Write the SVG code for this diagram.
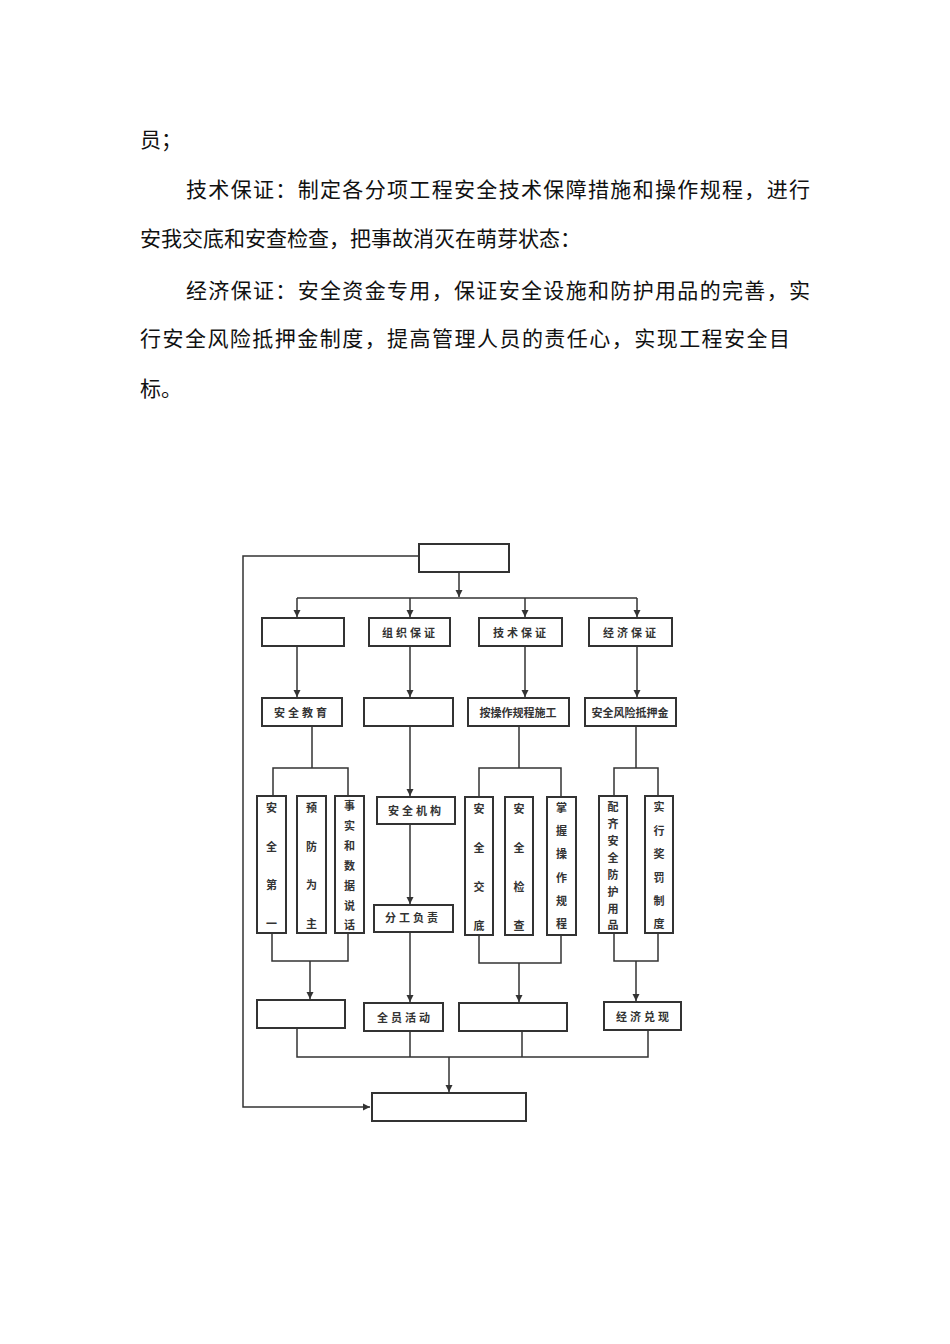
<svg xmlns="http://www.w3.org/2000/svg" width="950" height="1344" viewBox="0 0 950 1344">
<style>
.p{font-family:"Noto Sans CJK SC","Noto Sans CJK TC",sans-serif;font-size:21px;fill:#111}
.b{fill:#fff;stroke:#333;stroke-width:2}
.t{font-family:"Noto Sans CJK SC",sans-serif;font-size:11px;font-weight:bold;fill:#333;text-anchor:middle;dominant-baseline:central;letter-spacing:3px}
.v{font-family:"Noto Sans CJK SC",sans-serif;font-size:11px;font-weight:bold;fill:#333;text-anchor:middle;dominant-baseline:central}
.c{fill:none;stroke:#333;stroke-width:1.5}
</style>
<defs><marker id="a" viewBox="0 0 10 10" refX="10" refY="5" markerWidth="5" markerHeight="5" orient="auto"><path d="M0,0L10,5L0,10z" fill="#333"/></marker></defs>
<rect width="950" height="1344" fill="#fff"/>
<g id="text">
<text class="p" x="140" y="147">员；</text>
<text class="p" x="186" y="197" textLength="624">技术保证：制定各分项工程安全技术保障措施和操作规程，进行</text>
<text class="p" x="140" y="246">安我交底和安查检查，把事故消灭在萌芽状态：</text>
<text class="p" x="186" y="298" textLength="624">经济保证：安全资金专用，保证安全设施和防护用品的完善，实</text>
<text class="p" x="140" y="346" textLength="650">行安全风险抵押金制度，提高管理人员的责任心，实现工程安全目</text>
<text class="p" x="140" y="396">标。</text>
</g>
<g id="connectors">
<path class="c" d="M419,556H243V1107H370" marker-end="url(#a)"/>
<path class="c" d="M459,572V597" marker-end="url(#a)"/>
<path class="c" d="M297,598H637"/>
<path class="c" d="M297,598V617" marker-end="url(#a)"/>
<path class="c" d="M410,598V617" marker-end="url(#a)"/>
<path class="c" d="M525,598V617" marker-end="url(#a)"/>
<path class="c" d="M637,598V617" marker-end="url(#a)"/>
<path class="c" d="M297,646V697" marker-end="url(#a)"/>
<path class="c" d="M410,646V697" marker-end="url(#a)"/>
<path class="c" d="M525,646V697" marker-end="url(#a)"/>
<path class="c" d="M637,646V697" marker-end="url(#a)"/>
<path class="c" d="M312,726V768M273,796V768H348V796"/>
<path class="c" d="M410,726V796" marker-end="url(#a)"/>
<path class="c" d="M410,824V904" marker-end="url(#a)"/>
<path class="c" d="M410,932V1002" marker-end="url(#a)"/>
<path class="c" d="M519,726V768M479,797V768H561V797"/>
<path class="c" d="M636,726V768M614,796V768H658V796"/>
<path class="c" d="M272,933V961H348V933M310,961V999" marker-end="url(#a)"/>
<path class="c" d="M479,935V963H561V935M519,963V1002" marker-end="url(#a)"/>
<path class="c" d="M614,933V961H658V933M636,961V1001" marker-end="url(#a)"/>
<path class="c" d="M297,1028V1057H648V1030M410,1031V1057M522,1031V1057"/>
<path class="c" d="M449,1057V1092" marker-end="url(#a)"/>
</g>
<g id="n0"><rect class="b" x="419" y="544" width="90" height="28"/></g>
<g id="n1"><rect class="b" x="262" y="618" width="82" height="28"/></g>
<g id="n2"><rect class="b" x="369" y="618" width="81" height="28"/><text class="t" x="410" y="632">组织保证</text></g>
<g id="n3"><rect class="b" x="479" y="618" width="83" height="28"/><text class="t" x="521" y="632">技术保证</text></g>
<g id="n4"><rect class="b" x="589" y="618" width="83" height="28"/><text class="t" x="631" y="632">经济保证</text></g>
<g id="n5"><rect class="b" x="262" y="698" width="80" height="28"/><text class="t" x="302" y="712">安全教育</text></g>
<g id="n6"><rect class="b" x="364" y="698" width="89" height="28"/></g>
<g id="n7"><rect class="b" x="468" y="698" width="101" height="28"/><text class="v" x="518" y="712">按操作规程施工</text></g>
<g id="n8"><rect class="b" x="585" y="698" width="91" height="28"/><text class="v" x="630" y="712">安全风险抵押金</text></g>
<g id="n9"><rect class="b" x="257" y="796" width="29" height="137"/><text class="v" x="271.5"><tspan x="271.5" y="807">安</tspan><tspan x="271.5" y="846">全</tspan><tspan x="271.5" y="884">第</tspan><tspan x="271.5" y="923">一</tspan></text></g>
<g id="n10"><rect class="b" x="297" y="796" width="29" height="137"/><text class="v"><tspan x="311.5" y="807">预</tspan><tspan x="311.5" y="846">防</tspan><tspan x="311.5" y="884">为</tspan><tspan x="311.5" y="923">主</tspan></text></g>
<g id="n11"><rect class="b" x="335" y="796" width="29" height="137"/><text class="v"><tspan x="349.5" y="805">事</tspan><tspan x="349.5" y="825">实</tspan><tspan x="349.5" y="845">和</tspan><tspan x="349.5" y="865">数</tspan><tspan x="349.5" y="885">据</tspan><tspan x="349.5" y="905">说</tspan><tspan x="349.5" y="924">话</tspan></text></g>
<g id="n12"><rect class="b" x="377" y="797" width="78" height="27"/><text class="t" x="416" y="810">安全机构</text></g>
<g id="n13"><rect class="b" x="374" y="905" width="79" height="27"/><text class="t" x="413" y="917">分工负责</text></g>
<g id="n14"><rect class="b" x="465" y="797" width="28" height="138"/><text class="v"><tspan x="479" y="808">安</tspan><tspan x="479" y="847">全</tspan><tspan x="479" y="886">交</tspan><tspan x="479" y="925">底</tspan></text></g>
<g id="n15"><rect class="b" x="505" y="797" width="28" height="138"/><text class="v"><tspan x="519" y="808">安</tspan><tspan x="519" y="847">全</tspan><tspan x="519" y="886">检</tspan><tspan x="519" y="925">查</tspan></text></g>
<g id="n16"><rect class="b" x="547" y="797" width="29" height="138"/><text class="v"><tspan x="561.5" y="807">掌</tspan><tspan x="561.5" y="830">握</tspan><tspan x="561.5" y="853">操</tspan><tspan x="561.5" y="877">作</tspan><tspan x="561.5" y="900">规</tspan><tspan x="561.5" y="923">程</tspan></text></g>
<g id="n17"><rect class="b" x="599" y="796" width="28" height="137"/><text class="v"><tspan x="613" y="806">配</tspan><tspan x="613" y="823">齐</tspan><tspan x="613" y="840">安</tspan><tspan x="613" y="857">全</tspan><tspan x="613" y="874">防</tspan><tspan x="613" y="891">护</tspan><tspan x="613" y="908">用</tspan><tspan x="613" y="924">品</tspan></text></g>
<g id="n18"><rect class="b" x="645" y="796" width="28" height="137"/><text class="v"><tspan x="659" y="806">实</tspan><tspan x="659" y="830">行</tspan><tspan x="659" y="853">奖</tspan><tspan x="659" y="877">罚</tspan><tspan x="659" y="900">制</tspan><tspan x="659" y="923">度</tspan></text></g>
<g id="n19"><rect class="b" x="257" y="1000" width="88" height="28"/></g>
<g id="n20"><rect class="b" x="364" y="1003" width="79" height="28"/><text class="t" x="405" y="1017">全员活动</text></g>
<g id="n21"><rect class="b" x="459" y="1003" width="108" height="28"/></g>
<g id="n22"><rect class="b" x="604" y="1002" width="77" height="28"/><text class="t" x="644" y="1016">经济兑现</text></g>
<g id="n23"><rect class="b" x="372" y="1093" width="154" height="28"/></g>
</svg>
